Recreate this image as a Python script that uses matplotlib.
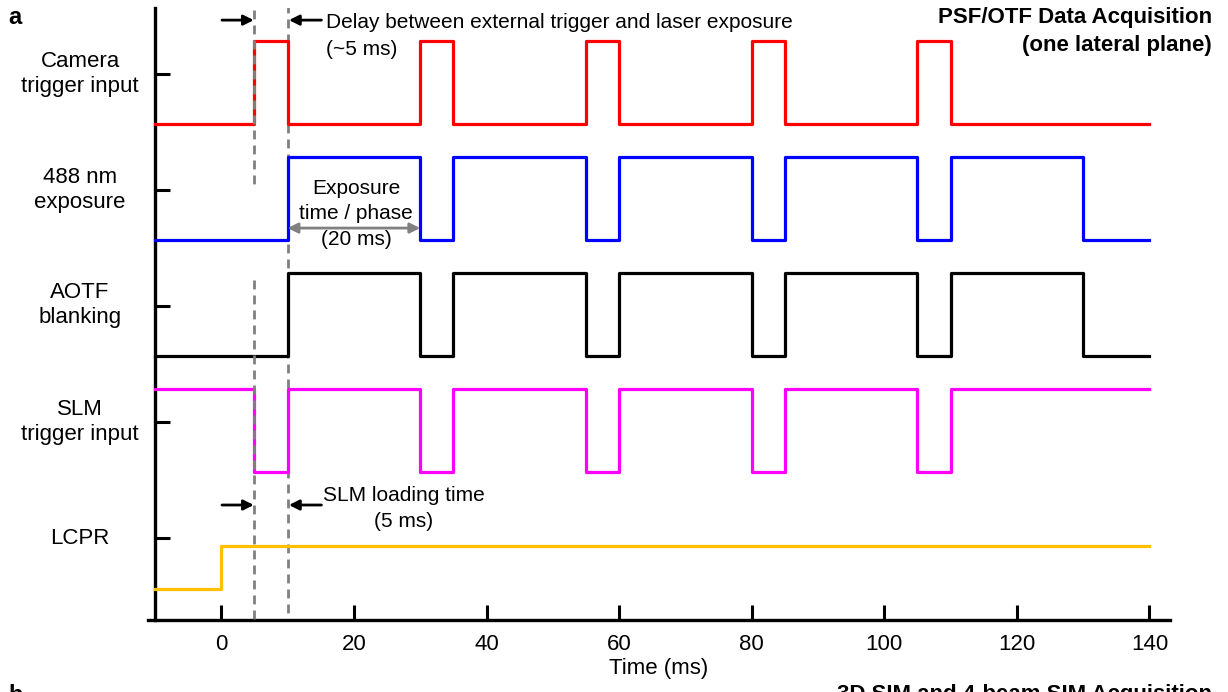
import matplotlib
matplotlib.use("Agg")
import matplotlib.pyplot as plt

plt.rcParams['font.family'] = ['Liberation Sans', 'DejaVu Sans']

# ---- data ----
channel_labels = ["Camera\ntrigger input", "488 nm\nexposure", "AOTF\nblanking",
                  "SLM\ntrigger input", "LCPR"]
channel_ticks = [5, 4, 3, 2, 1]

camera_times = [-10, 5, 10, 30, 35, 55, 60, 80, 85, 105, 110, 140]
camera_states = [0, 1, 0, 1, 0, 1, 0, 1, 0, 1, 0, 0]

exposure_times = [-10, 10, 30, 35, 55, 60, 80, 85, 105, 110, 130, 140]
exposure_states = [0, 1, 0, 1, 0, 1, 0, 1, 0, 1, 0, 0]

aotf_times = [-10, 10, 30, 35, 55, 60, 80, 85, 105, 110, 130, 140]
aotf_states = [0, 1, 0, 1, 0, 1, 0, 1, 0, 1, 0, 0]

slm_times = [-10, 5, 10, 30, 35, 55, 60, 80, 85, 105, 110, 140]
slm_states = [1, 0, 1, 0, 1, 0, 1, 0, 1, 0, 1, 1]

lcpr_times = [-10, 0, 140]
lcpr_states = [0, 1, 1]

x_ticks = [0, 20, 40, 60, 80, 100, 120, 140]
marker_times = [5, 10]          # dashed guide lines
exposure_span = [10, 30]        # exposure time / phase

# ---- figure ----
fig = plt.figure(figsize=(12.28, 6.92), dpi=100)
ax = fig.add_axes([148/1228, 72/692, (1170-148)/1228, (620-8)/692])
ax.set_xlim(-11.06, 143.1)
ax.set_ylim(0.293, 5.57)

lw = 2.3
amp = 0.715
def lev(tick, states, a=amp, off=-0.431):
    return [tick + off + a*s for s in states]

ax.plot(camera_times, lev(5, camera_states), drawstyle='steps-post', color='#ff0000', lw=lw, zorder=3)
ax.plot(exposure_times, lev(4, exposure_states), drawstyle='steps-post', color='#0000ff', lw=lw, zorder=3)
ax.plot(aotf_times, lev(3, aotf_states), drawstyle='steps-post', color='#000000', lw=lw, zorder=3)
ax.plot(slm_times, lev(2, slm_states), drawstyle='steps-post', color='#ff00ff', lw=lw, zorder=3)
ax.plot(lcpr_times, lev(1, lcpr_states, a=0.37, off=-0.44), drawstyle='steps-post', color='#ffc000', lw=lw, zorder=3)

# dashed guide lines
gray = '#808080'
def ypix(p):
    return 5 - (p - 74) / 116.0
dash = (0, (3.2, 2.2))
ax.plot([marker_times[0]]*2, [ypix(10), ypix(190)], ls=dash, color=gray, lw=2, zorder=4)
ax.plot([marker_times[0]]*2, [ypix(280), 0.293], ls=dash, color=gray, lw=2, zorder=4)
ax.plot([marker_times[1]]*2, [ypix(4), 0.293], ls=dash, color=gray, lw=2, zorder=2)

# spines / ticks
for s in ['top', 'right']:
    ax.spines[s].set_visible(False)
for s in ['left', 'bottom']:
    ax.spines[s].set_linewidth(2.4)
ax.spines['left'].set_position(('data', -10))
ax.set_xticks(x_ticks)
ax.set_yticks(channel_ticks)
ax.set_yticklabels([])
ax.tick_params(axis='both', direction='in', length=11, width=2.2, labelsize=16)
ax.tick_params(axis='x', pad=10)
ax.set_xlabel("Time (ms)", fontsize=16, labelpad=2)

# channel labels
label_y_pix = [74, 190, 305, 422, 538]
for lab, yp in zip(channel_labels, label_y_pix):
    fig.text(80/1228, 1 - yp/692, lab, ha='center', va='center', fontsize=16, linespacing=1.3)

# arrows: delay
arrow_kw = dict(arrowstyle='-|>,head_length=0.6,head_width=0.3', color='black', lw=2, shrinkA=0, shrinkB=0)
yd = ypix(20)
ax.annotate('', xy=(4.9, yd), xytext=(0.1, yd), arrowprops=arrow_kw)
ax.annotate('', xy=(10.2, yd), xytext=(15.1, yd), arrowprops=arrow_kw)
ax.text(15.8, ypix(22), "Delay between external trigger and laser exposure", fontsize=15, va='center', ha='left')
ax.text(15.8, ypix(49), "(~5 ms)", fontsize=15, va='center', ha='left')

# SLM loading arrows
ys = ypix(505)
ax.annotate('', xy=(4.9, ys), xytext=(0.1, ys), arrowprops=arrow_kw)
ax.annotate('', xy=(10.2, ys), xytext=(15.1, ys), arrowprops=arrow_kw)
ax.text(27.5, ypix(495), "SLM loading time", fontsize=15, va='center', ha='center')
ax.text(27.5, ypix(521), "(5 ms)", fontsize=15, va='center', ha='center')

# exposure double arrow
ye = ypix(228)
ax.annotate('', xy=(exposure_span[1], ye), xytext=(exposure_span[0], ye),
            arrowprops=dict(arrowstyle='<|-|>,head_length=0.6,head_width=0.3', color=gray, lw=2,
                            shrinkA=0, shrinkB=0), zorder=5)
ax.text(20.3, ypix(188), "Exposure", fontsize=15, ha='center', va='center', zorder=6)
ax.text(20.3, ypix(213), "time / phase", fontsize=15, ha='center', va='center', zorder=6)
ax.text(20.3, ypix(239), "(20 ms)", fontsize=15, ha='center', va='center', zorder=6)

# titles
fig.text(1212/1228, 1 - 17/692, "PSF/OTF Data Acquisition", fontsize=16, fontweight='bold', ha='right', va='center')
fig.text(1212/1228, 1 - 45/692, "(one lateral plane)", fontsize=16, fontweight='bold', ha='right', va='center')
fig.text(8/1228, 1 - 18/692, "a", fontsize=17, fontweight='bold', ha='left', va='center')
fig.text(8/1228, 1 - 684/692, "b", fontsize=17, fontweight='bold', ha='left', va='top')
fig.text(1212/1228, 1 - 684/692, "3D SIM and 4-beam SIM Acquisition", fontsize=16, fontweight='bold', ha='right', va='top')

fig.savefig("out.png", dpi=100)
